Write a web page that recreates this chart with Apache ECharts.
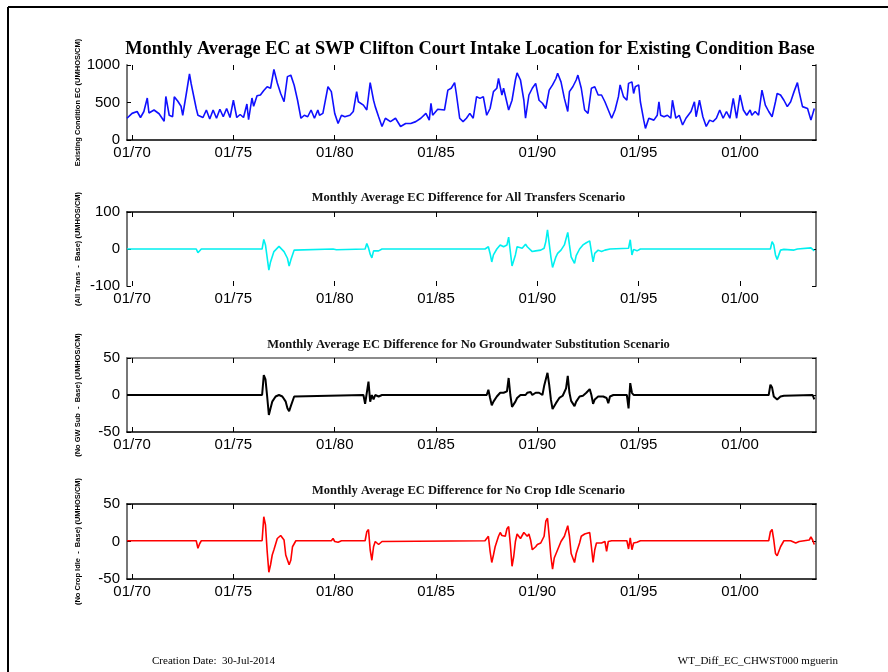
<!DOCTYPE html>
<html>
<head>
<meta charset="utf-8">
<script src="https://cdn.jsdelivr.net/npm/echarts@6/dist/echarts.min.js"></script>
<style>
html, body { margin: 0; background: #fff; }
#chart { width: 888px; height: 672px; }
</style>
</head>
<body>
<div id="chart"></div>
<script>
// x ticks (January of each 5th year)
const yearTicks = [1970, 1975, 1980, 1985, 1990, 1995, 2000]

// Existing condition base EC, monthly (umhos/cm), read at peaks and troughs
const baseEC = [
    ['1969-10', 290], ['1970-01', 355], ['1970-04', 380], ['1970-06', 300], ['1970-08', 380],
    ['1970-10', 560], ['1970-11', 360], ['1971-02', 400], ['1971-05', 350], ['1971-08', 250],
    ['1971-09', 580], ['1971-11', 330], ['1972-01', 310], ['1972-02', 575], ['1972-04', 520],
    ['1972-06', 450], ['1972-07', 330], ['1972-09', 600], ['1972-11', 880], ['1972-12', 750],
    ['1973-01', 640], ['1973-03', 420], ['1973-04', 330], ['1973-07', 300], ['1973-09', 400],
    ['1973-11', 280], ['1974-01', 400], ['1974-03', 290], ['1974-05', 410], ['1974-07', 310],
    ['1974-09', 420], ['1974-11', 300], ['1975-01', 530], ['1975-03', 300], ['1975-05', 340],
    ['1975-07', 300], ['1975-09', 480], ['1975-10', 270], ['1975-12', 560], ['1976-01', 450],
    ['1976-03', 590], ['1976-05', 600], ['1976-07', 660], ['1976-09', 710], ['1976-11', 690],
    ['1977-01', 940], ['1977-03', 760], ['1977-05', 620], ['1977-07', 510], ['1977-09', 845],
    ['1977-11', 865], ['1978-01', 730], ['1978-03', 530], ['1978-05', 290], ['1978-07', 330],
    ['1978-09', 310], ['1978-11', 400], ['1979-01', 290], ['1979-03', 400], ['1979-04', 330],
    ['1979-06', 355], ['1979-09', 710], ['1979-11', 645], ['1980-01', 355], ['1980-03', 220],
    ['1980-05', 330], ['1980-07', 310], ['1980-10', 330], ['1980-12', 380], ['1981-02', 645],
    ['1981-03', 510], ['1981-06', 465], ['1981-08', 400], ['1981-10', 765], ['1981-12', 530],
    ['1982-01', 445], ['1982-03', 310], ['1982-05', 180], ['1982-07', 290], ['1982-10', 245],
    ['1983-01', 290], ['1983-04', 180], ['1983-07', 220], ['1983-10', 220], ['1984-01', 245],
    ['1984-04', 290], ['1984-07', 355], ['1984-09', 265], ['1984-10', 490], ['1984-11', 330],
    ['1985-02', 410], ['1985-03', 420], ['1985-06', 400], ['1985-08', 665], ['1985-10', 690],
    ['1985-12', 765], ['1986-01', 620], ['1986-03', 290], ['1986-05', 245], ['1986-07', 290],
    ['1986-09', 355], ['1986-11', 290], ['1987-01', 578], ['1987-03', 555], ['1987-05', 578],
    ['1987-07', 330], ['1987-09', 420], ['1987-11', 645], ['1988-01', 690], ['1988-02', 820],
    ['1988-04', 600], ['1988-05', 690], ['1988-08', 400], ['1988-10', 530], ['1988-12', 800],
    ['1989-01', 895], ['1989-03', 800], ['1989-05', 530], ['1989-06', 290], ['1989-08', 600],
    ['1989-10', 690], ['1989-12', 755], ['1990-01', 735], ['1990-02', 530], ['1990-04', 490],
    ['1990-06', 420], ['1990-08', 665], ['1990-10', 735], ['1990-12', 820], ['1991-01', 890],
    ['1991-03', 775], ['1991-05', 555], ['1991-07', 380], ['1991-08', 645], ['1991-10', 710],
    ['1991-12', 800], ['1992-01', 865], ['1992-03', 690], ['1992-05', 400], ['1992-07', 355],
    ['1992-09', 690], ['1992-11', 710], ['1993-01', 600], ['1993-03', 600], ['1993-05', 510],
    ['1993-07', 400], ['1993-09', 290], ['1993-11', 400], ['1994-01', 578], ['1994-02', 735],
    ['1994-04', 578], ['1994-06', 530], ['1994-07', 755], ['1994-09', 775], ['1994-10', 620],
    ['1994-11', 710], ['1995-01', 735], ['1995-02', 510], ['1995-04', 265], ['1995-05', 155],
    ['1995-07', 290], ['1995-10', 265], ['1995-12', 330], ['1996-01', 510], ['1996-02', 330],
    ['1996-04', 310], ['1996-06', 330], ['1996-08', 290], ['1996-09', 530], ['1996-11', 290],
    ['1997-01', 330], ['1997-03', 200], ['1997-05', 290], ['1997-08', 380], ['1997-10', 510],
    ['1997-11', 310], ['1998-01', 530], ['1998-03', 310], ['1998-05', 180], ['1998-07', 265],
    ['1998-09', 245], ['1998-11', 290], ['1999-01', 400], ['1999-03', 290], ['1999-05', 380],
    ['1999-07', 290], ['1999-09', 555], ['1999-11', 290], ['2000-01', 600], ['2000-03', 400],
    ['2000-05', 330], ['2000-07', 400], ['2000-08', 330], ['2000-10', 380], ['2000-12', 330],
    ['2001-02', 665], ['2001-04', 465], ['2001-06', 380], ['2001-08', 310], ['2001-10', 510],
    ['2001-11', 620], ['2002-01', 600], ['2002-03', 530], ['2002-05', 445], ['2002-07', 510],
    ['2002-09', 645], ['2002-11', 765], ['2002-12', 645], ['2003-02', 445], ['2003-03', 465],
    ['2003-05', 420], ['2003-07', 265], ['2003-08', 290], ['2003-09', 420]
]

// All Transfers - Base
const allTransDiff = [
    ['1969-10', 0], ['1973-03', 0], ['1973-04', -10], ['1973-06', 0], ['1976-06', 0],
    ['1976-07', 26], ['1976-08', 11], ['1976-10', -57], ['1976-11', -35], ['1977-01', -7],
    ['1977-04', 7], ['1977-07', -7], ['1977-09', -25], ['1977-10', -46], ['1977-11', -30],
    ['1978-01', -3], ['1978-02', 0], ['1979-12', 0], ['1980-01', 3], ['1980-02', -2],
    ['1980-03', 0], ['1981-07', 0], ['1981-08', 15], ['1981-09', 3], ['1981-10', -14],
    ['1981-11', -24], ['1981-12', -5], ['1982-01', -2], ['1982-03', -5], ['1982-05', 0],
    ['1987-06', 0], ['1987-08', 6], ['1987-09', -12], ['1987-10', -35], ['1987-11', -16],
    ['1988-01', 0], ['1988-03', 11], ['1988-05', 6], ['1988-07', 11], ['1988-08', 32],
    ['1988-09', -7], ['1988-10', -46], ['1988-12', -16], ['1989-01', 6], ['1989-02', 11],
    ['1989-04', 2], ['1989-06', 13], ['1989-07', 6], ['1989-08', 11], ['1989-10', -7],
    ['1989-12', -5], ['1990-03', -3], ['1990-05', 2], ['1990-06', 20], ['1990-07', 52],
    ['1990-08', 15], ['1990-09', -21], ['1990-10', -50], ['1990-12', -21], ['1991-01', -12],
    ['1991-03', -3], ['1991-05', 11], ['1991-07', 45], ['1991-08', 11], ['1991-09', -21],
    ['1991-11', -39], ['1991-12', -18], ['1992-02', 0], ['1992-04', 11], ['1992-06', 17],
    ['1992-08', 22], ['1992-09', -7], ['1992-10', -35], ['1992-11', -12], ['1993-01', -3],
    ['1993-03', -7], ['1993-05', -3], ['1993-08', 0], ['1994-07', 2], ['1994-08', 25],
    ['1994-09', -16], ['1994-10', -1], ['1994-12', -5], ['1995-02', 0], ['2001-07', 0],
    ['2001-08', 20], ['2001-09', 11], ['2001-10', -16], ['2001-11', -28], ['2002-01', -3],
    ['2002-03', -1], ['2002-09', -3], ['2002-11', 0], ['2003-07', 3], ['2003-08', 2],
    ['2003-09', -5]
]

// No Groundwater Substitution - Base
const noGwSubDiff = [
    ['1969-10', 0], ['1976-06', 0], ['1976-07', 27], ['1976-08', 21], ['1976-09', -2],
    ['1976-10', -27], ['1976-11', -18], ['1976-12', -9], ['1977-02', -2], ['1977-04', 0],
    ['1977-06', -2], ['1977-08', -9], ['1977-09', -18], ['1977-10', -22], ['1977-11', -15],
    ['1978-01', -2], ['1978-02', 0], ['1981-06', 0], ['1981-07', -12], ['1981-09', 18],
    ['1981-10', -9], ['1981-11', 0], ['1981-12', -6], ['1982-01', 0], ['1982-03', -2],
    ['1982-05', 0], ['1987-07', 0], ['1987-08', 7], ['1987-09', -4], ['1987-10', -14],
    ['1987-11', -9], ['1988-01', -2], ['1988-03', 3], ['1988-05', 3], ['1988-07', 5],
    ['1988-08', 23], ['1988-09', 0], ['1988-10', -16], ['1988-12', -9], ['1989-01', -4],
    ['1989-03', 0], ['1989-06', 0], ['1989-07', 3], ['1989-09', 4], ['1989-10', 0],
    ['1989-12', 3], ['1990-02', 3], ['1990-04', 0], ['1990-05', 12], ['1990-07', 30],
    ['1990-08', 14], ['1990-09', -6], ['1990-10', -19], ['1990-12', -11], ['1991-02', -4],
    ['1991-04', -1], ['1991-06', 9], ['1991-07', 26], ['1991-08', 3], ['1991-09', -8],
    ['1991-11', -15], ['1991-12', -9], ['1992-02', -2], ['1992-04', -1], ['1992-06', 3],
    ['1992-08', 8], ['1992-09', 0], ['1992-10', -12], ['1992-11', -6], ['1993-01', -2],
    ['1993-04', -2], ['1993-06', -4], ['1993-07', -11], ['1993-08', -2], ['1993-10', 0],
    ['1994-06', 0], ['1994-07', -18], ['1994-08', 16], ['1994-09', 3], ['1994-10', 0],
    ['2001-06', 0], ['2001-07', 14], ['2001-08', 10], ['2001-09', -2], ['2001-11', -6],
    ['2001-12', -7], ['2002-01', -2], ['2002-03', -1], ['2003-08', 0], ['2003-09', -6]
]

// No Crop Idle - Base
const noCropIdleDiff = [
    ['1969-10', 1], ['1973-03', 1], ['1973-04', -9], ['1973-05', -3], ['1973-06', 1],
    ['1976-06', 1], ['1976-07', 33], ['1976-08', 22], ['1976-09', -13], ['1976-10', -41],
    ['1976-11', -31], ['1976-12', -18], ['1977-01', -11], ['1977-03', 4], ['1977-05', 8],
    ['1977-07', 2], ['1977-08', -18], ['1977-10', -31], ['1977-11', -25], ['1977-12', -7],
    ['1978-02', 1], ['1979-11', 1], ['1979-12', 4], ['1980-01', 0], ['1980-03', -1],
    ['1980-05', 1], ['1981-07', 1], ['1981-08', 13], ['1981-09', 16], ['1981-10', -11],
    ['1981-11', -25], ['1981-12', -7], ['1982-01', 0], ['1982-02', -2], ['1982-03', -4],
    ['1982-05', 0], ['1987-06', 1], ['1987-08', 7], ['1987-09', -13], ['1987-10', -28],
    ['1987-11', -18], ['1987-12', -7], ['1988-02', 7], ['1988-03', 12], ['1988-04', 8],
    ['1988-06', 7], ['1988-07', 17], ['1988-08', 20], ['1988-09', -4], ['1988-10', -33],
    ['1988-11', -20], ['1988-12', 0], ['1989-01', 10], ['1989-03', 4], ['1989-04', 5],
    ['1989-05', 12], ['1989-07', 7], ['1989-08', 10], ['1989-09', 2], ['1989-10', -11],
    ['1989-12', -7], ['1990-01', -4], ['1990-03', -2], ['1990-05', 7], ['1990-06', 27],
    ['1990-07', 31], ['1990-08', 7], ['1990-09', -20], ['1990-10', -37], ['1990-11', -22],
    ['1991-01', -11], ['1991-03', 0], ['1991-05', 7], ['1991-07', 21], ['1991-08', 7],
    ['1991-09', -16], ['1991-11', -28], ['1991-12', -16], ['1992-02', -2], ['1992-03', 7],
    ['1992-05', 10], ['1992-06', 9], ['1992-08', 12], ['1992-09', -7], ['1992-10', -28],
    ['1992-11', -11], ['1992-12', -2], ['1993-03', -2], ['1993-05', 0], ['1993-06', -13],
    ['1993-07', 0], ['1993-09', 1], ['1994-06', 1], ['1994-07', -10], ['1994-08', 5],
    ['1994-09', -11], ['1994-10', -2], ['1994-12', -1], ['1995-02', 1], ['2001-06', 1],
    ['2001-07', 13], ['2001-08', 16], ['2001-09', 2], ['2001-10', -16], ['2001-11', -19],
    ['2002-01', -7], ['2002-03', 1], ['2002-07', 1], ['2002-10', -2], ['2002-12', 0],
    ['2003-06', 2], ['2003-07', 6], ['2003-08', 2], ['2003-09', -4]
]

const panelTitles = [
    'Monthly Average EC at SWP Clifton Court Intake Location for Existing Condition Base',
    'Monthly Average EC Difference for All Transfers Scenario',
    'Monthly Average EC Difference for No Groundwater Substitution Scenario',
    'Monthly Average EC Difference for No Crop Idle Scenario'
]
const yNames = [
    'Existing Condition EC (UMHOS/CM)',
    '(All Trans  -  Base) (UMHOS/CM)',
    '(No GW Sub  -  Base) (UMHOS/CM)',
    '(No Crop Idle  -  Base) (UMHOS/CM)'
]

const toYear = (s) => +s.slice(0, 4) + (+s.slice(5, 7) - 1) / 12

const panels = [
    { top: 65, height: 75, min: 0, max: 1000, step: 500, color: '#1010ff', width: 1.6, data: baseEC, titleY: 44, boxTop: false, boxBottom: true },
    { top: 212, height: 74, min: -100, max: 100, step: 100, color: '#00f0f0', width: 1.6, data: allTransDiff, titleY: 192.5, boxTop: true, boxBottom: false },
    { top: 358, height: 74, min: -50, max: 50, step: 50, color: '#000000', width: 2, data: noGwSubDiff, titleY: 339.5, boxTop: true, boxBottom: true },
    { top: 504, height: 75, min: -50, max: 50, step: 50, color: '#ff0000', width: 1.6, data: noCropIdleDiff, titleY: 485.5, boxTop: true, boxBottom: true },
]

const sans = 'Liberation Sans, Arial, sans-serif'
const serif = 'Liberation Serif, Times New Roman, serif'

const grid = []
const xAxis = []
const yAxis = []
const series = []
const title = []

panels.forEach((p, i) => {
    grid.push({ left: 127, width: 689, top: p.top, height: p.height })

    // bottom axis with labels
    xAxis.push({
        type: 'value', gridIndex: i, position: 'bottom', min: 1969.75, max: 2003.75,
        axisLine: { show: p.boxBottom, onZero: false, lineStyle: { color: '#000', width: 1.5 } },
        axisTick: { show: true, inside: true, length: 5, customValues: yearTicks, lineStyle: { color: '#000' } },
        axisLabel: {
            customValues: yearTicks, margin: 5, fontSize: 15, color: '#000', fontFamily: sans,
            formatter: (v) => '01/' + String(Math.round(v)).slice(2)
        },
        splitLine: { show: false },
    })
    // top axis, ticks only
    xAxis.push({
        type: 'value', gridIndex: i, position: 'top', min: 1969.75, max: 2003.75,
        axisLine: { show: p.boxTop, onZero: false, lineStyle: { color: i === 2 ? '#666' : '#000', width: 1.5 } },
        axisTick: { show: true, inside: true, length: 5, customValues: yearTicks, lineStyle: { color: '#000' } },
        axisLabel: { show: false },
        splitLine: { show: false },
    })

    yAxis.push({
        type: 'value', gridIndex: i, position: 'left', min: p.min, max: p.max, interval: p.step,
        name: yNames[i], nameLocation: 'middle', nameRotate: 90, nameGap: 45, nameMoveOverlap: false,
        nameTextStyle: { fontSize: 7.5, fontWeight: 'bold', color: '#000', fontFamily: sans },
        axisLine: { show: true, lineStyle: { color: '#777', width: 2 } },
        axisTick: { show: true, inside: true, length: 4, lineStyle: { color: '#000' } },
        axisLabel: { fontSize: 15, color: '#000', fontFamily: sans, margin: 7, formatter: (v) => String(v) },
        splitLine: { show: false },
    })
    yAxis.push({
        type: 'value', gridIndex: i, position: 'right', min: p.min, max: p.max, interval: p.step,
        axisLine: { show: true, lineStyle: { color: '#777', width: 2 } },
        axisTick: { show: true, inside: true, length: 4, lineStyle: { color: '#000' } },
        axisLabel: { show: false },
        splitLine: { show: false },
    })

    series.push({
        type: 'line', xAxisIndex: i * 2, yAxisIndex: i * 2,
        data: p.data.map(([d, v]) => [toYear(d), v]),
        showSymbol: false, symbol: 'none',
        lineStyle: { color: p.color, width: p.width },
        itemStyle: { color: p.color },
        z: 1,
    })

    title.push({
        text: panelTitles[i], left: i === 0 ? 465 : 463.5, top: p.titleY, textAlign: 'center', textVerticalAlign: 'middle',
        textStyle: i === 0
            ? { fontSize: 18.3, fontWeight: 'bold', fontFamily: serif, color: '#000' }
            : { fontSize: 12.5, fontWeight: 'bold', fontFamily: serif, color: '#111' },
    })
})

const chart = echarts.init(document.getElementById('chart'))
chart.setOption({
    animation: false,
    backgroundColor: '#fff',
    title,
    grid,
    xAxis,
    yAxis,
    series,
    graphic: [
        // page frame
        { type: 'line', shape: { x1: 8, y1: 7, x2: 888, y2: 7 }, style: { stroke: '#000', lineWidth: 2 } },
        { type: 'line', shape: { x1: 8, y1: 7, x2: 8, y2: 672 }, style: { stroke: '#000', lineWidth: 2 } },
        // footer
        { type: 'text', x: 152, y: 661, style: { text: 'Creation Date:  30-Jul-2014', font: '11px ' + serif, fill: '#000', textVerticalAlign: 'middle' } },
        { type: 'text', x: 838, y: 661, style: { text: 'WT_Diff_EC_CHWST000 mguerin', font: '11px ' + serif, fill: '#000', textAlign: 'right', textVerticalAlign: 'middle' } },
    ],
})
</script>
</body>
</html>
